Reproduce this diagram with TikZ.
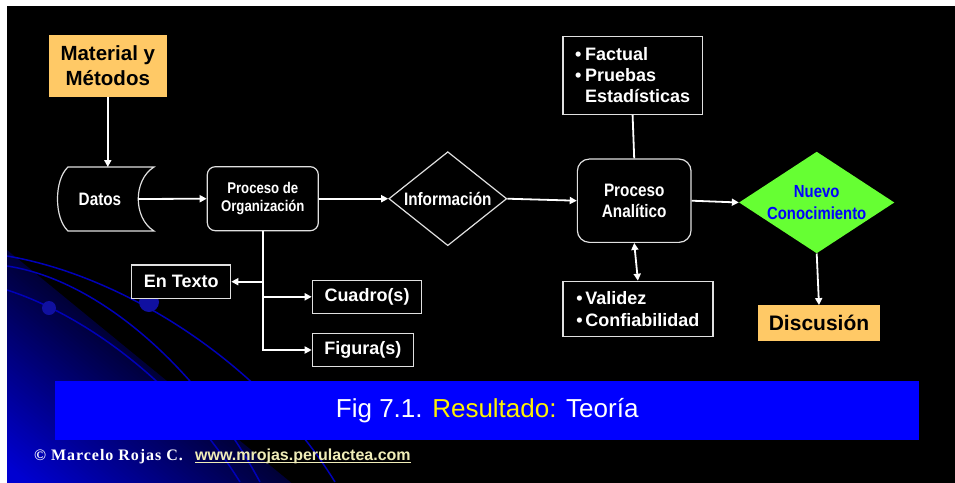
\documentclass[tikz,border=0pt]{standalone}
\usepackage{fontspec}
\setmainfont{Liberation Sans}
\newfontfamily\narrowsans[FakeStretch=0.85]{Liberation Sans}
\newfontfamily\footserif[LetterSpace=6]{Liberation Serif}
\usetikzlibrary{arrows.meta,shapes.geometric}
\definecolor{orangefill}{HTML}{FFC966}
\definecolor{greenfill}{HTML}{66FF33}
\definecolor{bannerblue}{HTML}{0000FF}
\definecolor{nuevoblue}{HTML}{0000FF}
\definecolor{urlyellow}{HTML}{F0EDB8}
\definecolor{boxgray}{HTML}{E0E0E0}
\definecolor{swline}{HTML}{0000B8}
\definecolor{dotblue}{HTML}{1010A0}
\newcommand{\fsz}[2]{\fontsize{#1}{#2}\selectfont}
\tikzset{
  conn/.style={white, line width=1.8pt, -{Triangle[length=7pt,width=7pt]}},
  biconn/.style={white, line width=1.8pt, {Triangle[length=7pt,width=7pt]}-{Triangle[length=7pt,width=7pt]}},
  plainline/.style={white, line width=1.8pt},
  edgebox/.style={draw=boxgray, line width=1.2pt, fill=black, text=white, inner sep=0pt},
  labelbox/.style={edgebox, font=\fsz{18}{21}\bfseries},
  roundbox/.style={edgebox, align=center},
  orangebox/.style={fill=orangefill, text=black, inner sep=0pt, align=center},
  swooshline/.style={swline, line width=1.5pt},
}
\begin{document}
\begin{tikzpicture}[x=1pt,y=-1pt]
\useasboundingbox (0,0) rectangle (955,482);
\fill[white] (-5,-5) rectangle (960,490);
\fill[black] (7,6) rectangle (960,490);
\begin{scope}
  \clip (7,6) rectangle (960,490);
  \foreach \dd in {0,3,...,240} {
    \pgfmathsetmacro\ax{7-0.634*\dd-464}
    \pgfmathsetmacro\ay{250+0.773*\dd-380}
    \pgfmathsetmacro\bx{7-0.634*\dd+464}
    \pgfmathsetmacro\by{250+0.773*\dd+380}
    \pgfmathsetmacro\lev{min(0.82,0.22+0.0036*\dd)}
    \definecolor{swfill}{rgb}{0,0,\lev}
    \fill[swfill] (\ax,\ay) -- (\bx,\by) -- (\bx-380,\by+464) -- (\ax-380,\ay+464) -- cycle;
  }
  \draw[swooshline] (7,256) .. controls (120,275) and (260,360) .. (335,482);
  \draw[swooshline] (7,266) .. controls (100,280) and (200,370) .. (260,482);
  \draw[swooshline] (7,290) .. controls (70,310) and (170,370) .. (240,482);
  \fill[dotblue] (49,308) circle[radius=7];
  \fill[dotblue] (149,302) circle[radius=10];
\end{scope}

% nodes
\node[orangebox, minimum width=117.7pt, minimum height=61.7pt, font=\fsz{20.5}{25}\bfseries] (mat) at (107.8,65.8) {Material y\\Métodos};

\filldraw[fill=black, draw=boxgray, line width=1.2pt] (68,167) -- (154,167) .. controls (133,180) and (133,218) .. (154,231) -- (68,231) .. controls (54,218) and (54,180) .. cycle;
\node[text=white, font=\narrowsans\fsz{18}{21}\bfseries] (datos) at (100,199) {Datos};
\coordinate (datosTop) at (107.8,167);
\coordinate (datosOut) at (138,199);

\node[roundbox, rounded corners=8pt, minimum width=111pt, minimum height=64pt, font=\narrowsans\fsz{15.5}{18}\bfseries] (porg) at (262.8,198.7) {Proceso de\\Organización};

\node[edgebox, diamond, aspect=1.255, minimum width=118pt, minimum height=94pt, font=\narrowsans\fsz{18}{21}\bfseries] (info) at (447.8,198.7) {Información};

\node[roundbox, rounded corners=12pt, minimum width=113.7pt, minimum height=83.3pt, font=\narrowsans\fsz{18}{21}\bfseries] (pana) at (634.2,200.7) {Proceso\\Analítico};

\node[diamond, aspect=1.53, fill=greenfill, text=nuevoblue, inner sep=0pt, minimum width=155.3pt, minimum height=101.6pt, align=center, font=\narrowsans\fsz{17.5}{22}\bfseries] (nuevo) at (816.7,202.5) {Nuevo\\Conocimiento};

\node[labelbox, anchor=north west, minimum width=139.4pt, minimum height=78.3pt, align=left] (factual) at (562.3,35.7) {\makebox[10pt][l]{\textbullet}Factual\\\makebox[10pt][l]{\textbullet}Pruebas\\\hspace*{10pt}Estadísticas};

\node[labelbox, anchor=north west, minimum width=150pt, minimum height=55.3pt, align=left, font=\fsz{18}{22.7}\bfseries] (validez) at (562.3,280.7) {\makebox[9pt][l]{\textbullet}Validez\\\makebox[9pt][l]{\textbullet}Confiabilidad};

\node[labelbox, minimum width=99pt, minimum height=33.3pt] (entexto) at (181.2,281.7) {En Texto};
\node[labelbox, minimum width=109.4pt, minimum height=33pt] (cuadro) at (367,296.8) {Cuadro(s)};
\node[labelbox, minimum width=101pt, minimum height=33.4pt] (figura) at (362.8,350) {Figura(s)};

\node[orangebox, minimum width=121.4pt, minimum height=35.4pt, font=\fsz{21}{25}\bfseries] (disc) at (819,323) {Discusión};

\node[fill=bannerblue, inner sep=0pt, minimum width=864.3pt, minimum height=59pt, text=white, font=\fsz{26}{30}] (banner) at (487.2,410.5) {Fig 7.1. \textcolor{yellow}{Resultado:} Teoría};

\node[anchor=base west, inner sep=0pt, text=white, font=\footserif\fsz{16}{19}\bfseries] (copy) at (34,460) {© Marcelo Rojas C.};
\node[anchor=base west, inner sep=0pt, text=urlyellow, font=\fsz{16}{19}\bfseries] (url) at (195,460) {www.mrojas.perulactea.com};
\draw[urlyellow, line width=1pt] ([yshift=-2.5pt]url.base west) -- ([yshift=-2.5pt]url.base east);

% connectors
\draw[conn] (mat.south) -- (datosTop);
\draw[conn] (datosOut) -- (porg.west);
\draw[conn] (porg.east) -- (info.west);
\draw[conn] (info.east) -- (pana.west);
\draw[conn] (pana.east) -- (nuevo.west);
\draw[plainline] (factual.south) -- (pana.north);
\draw[biconn] (pana.south) -- (validez.north);
\draw[conn] (nuevo.south) -- (disc.north);
\draw[conn] (porg.south) |- (figura.west);
\draw[conn] (porg.south |- entexto.east) -- (entexto.east);
\draw[conn] (porg.south |- cuadro.west) -- (cuadro.west);
\end{tikzpicture}
\end{document}
